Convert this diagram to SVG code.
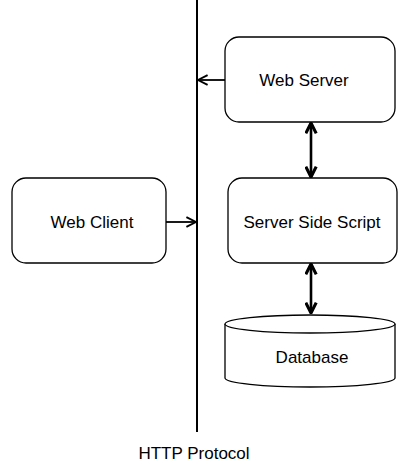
<svg xmlns="http://www.w3.org/2000/svg" width="411" height="473" viewBox="0 0 411 473">
<style>
.box{fill:#fff;stroke:#000;stroke-width:1.3}
.lbl{font-family:"Liberation Sans",Arial,sans-serif;font-size:17px;fill:#000;text-anchor:middle}
.con{stroke:#000;fill:none}
</style>
<defs>
<marker id="open" viewBox="0 0 10 10" refX="9" refY="5" markerWidth="12" markerHeight="12" markerUnits="userSpaceOnUse" orient="auto">
<path d="M1,1 L9,5 L1,9" fill="none" stroke="#000" stroke-width="1.6"/>
</marker>
<marker id="bold" viewBox="0 0 10 10" refX="9" refY="5" markerWidth="13" markerHeight="13" markerUnits="userSpaceOnUse" orient="auto-start-reverse">
<path d="M1,1 L9,5 L1,9" fill="none" stroke="#000" stroke-width="2.4"/>
</marker>
</defs>
<rect width="411" height="473" fill="#fff"/>
<g id="connectors">
<line class="con" x1="197" y1="0" x2="197" y2="432" stroke-width="2"/>
<line class="con" x1="225" y1="80" x2="198" y2="80" stroke-width="1.8" marker-end="url(#open)"/>
<line class="con" x1="166" y1="222" x2="196" y2="222" stroke-width="1.8" marker-end="url(#open)"/>
<line class="con" x1="311" y1="123" x2="311" y2="177" stroke-width="2.6" marker-start="url(#bold)" marker-end="url(#bold)"/>
<line class="con" x1="311" y1="264" x2="311" y2="313" stroke-width="2.6" marker-start="url(#bold)" marker-end="url(#bold)"/>
</g>
<g id="web-server">
<rect class="box" x="225" y="37" width="170" height="85" rx="14"/>
<text class="lbl" x="304" y="86">Web Server</text>
</g>
<g id="web-client">
<rect class="box" x="12" y="178" width="154" height="85" rx="14"/>
<text class="lbl" x="92" y="228">Web Client</text>
</g>
<g id="server-side-script">
<rect class="box" x="228" y="178" width="169" height="85" rx="14"/>
<text class="lbl" x="312" y="228">Server Side Script</text>
</g>
<g id="database">
<path class="box" d="M225,324 L225,378 A85,9 0 0 0 395,378 L395,324 A85,9 0 0 0 225,324 Z"/>
<path class="box" d="M225,324 A85,9 0 0 0 395,324" fill="none"/>
<text class="lbl" x="312" y="363">Database</text>
</g>
<g id="http-protocol">
<text class="lbl" x="194" y="459">HTTP Protocol</text>
</g>
</svg>
